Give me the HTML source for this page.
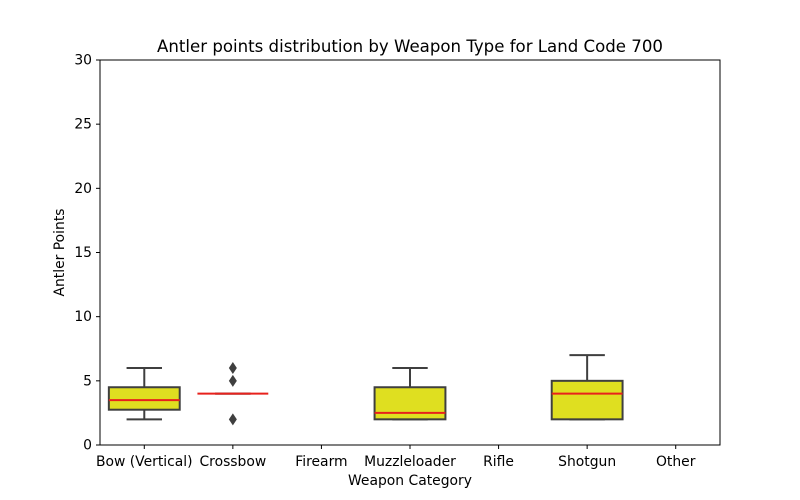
<!DOCTYPE html>
<html><head><meta charset="utf-8"><style>
body{margin:0;background:#fff;}
svg{display:block;font-family:"DejaVu Sans","Liberation Sans",sans-serif;}
</style></head><body>
<svg id="chart" width="800" height="500">
<rect x="0" y="0" width="800" height="500" fill="#fff"/>
<text x="410" y="52" text-anchor="middle" font-size="16.6" fill="#000">Antler points distribution by Weapon Type for Land Code 700</text>
<text x="410" y="485" text-anchor="middle" font-size="13.9">Weapon Category</text>
<text transform="translate(64,252.5) rotate(-90)" text-anchor="middle" font-size="13.9">Antler Points</text>
<g id="marks"></g>
<rect x="100" y="60" width="620" height="385" fill="none" stroke="#000" stroke-width="1"/>
</svg>
<script>
const categories = ["Bow (Vertical)","Crossbow","Firearm","Muzzleloader","Rifle","Shotgun","Other"];
const whiskLo = [2,4,null,2,null,2,null];
const q1 = [2.75,4,null,2,null,2,null];
const medians = [3.5,4,null,2.5,null,4,null];
const q3 = [4.5,4,null,4.5,null,5,null];
const whiskHi = [6,4,null,6,null,7,null];
const outliers = [[],[2,5,6],[],[],[],[],[]];
const yTicks = [0,5,10,15,20,25,30];

const X0=100,X1=720,Y0=445,Y1=60,YMAX=30;
const band=(X1-X0)/categories.length;
const xc=i=>X0+band*(i+0.5);
const y=v=>Y0-(v/YMAX)*(Y0-Y1);
const NS="http://www.w3.org/2000/svg";
const g=document.getElementById('marks');
function mk(tag,attrs,parent){const e=document.createElementNS(NS,tag);for(const k in attrs)e.setAttribute(k,attrs[k]);(parent||g).appendChild(e);return e;}

yTicks.forEach(t=>{
  const l=mk('line',{x1:X0-4,x2:X0,y1:y(t),y2:y(t),stroke:'#000'});
  
  
  const tx=mk('text',{x:X0-8,y:y(t)+4.5,'text-anchor':'end','font-size':13.9});
  tx.textContent=t;
  
  
});
categories.forEach((c,i)=>{
  const l=mk('line',{x1:xc(i),x2:xc(i),y1:Y0,y2:Y0+4,stroke:'#000'});
  
  
  const tx=mk('text',{x:xc(i),y:Y0+21,'text-anchor':'middle','font-size':13.9});
  tx.textContent=c;
  
  
  if(medians[i]==null) return;
  const grp=mk('g',{});
  
  
  const w=band*0.8, cx=xc(i), cap=w/2*0.5;
  const col='#3f3f3f';
  mk('line',{x1:cx,x2:cx,y1:y(q1[i]),y2:y(whiskLo[i]),stroke:col,'stroke-width':2},grp);
  mk('line',{x1:cx,x2:cx,y1:y(q3[i]),y2:y(whiskHi[i]),stroke:col,'stroke-width':2},grp);
  mk('line',{x1:cx-cap,x2:cx+cap,y1:y(whiskLo[i]),y2:y(whiskLo[i]),stroke:col,'stroke-width':2},grp);
  mk('line',{x1:cx-cap,x2:cx+cap,y1:y(whiskHi[i]),y2:y(whiskHi[i]),stroke:col,'stroke-width':2},grp);
  if(q3[i]>q1[i]) mk('rect',{x:cx-w/2,y:y(q3[i]),width:w,height:y(q1[i])-y(q3[i]),fill:'#dfdf20',stroke:col,'stroke-width':2},grp);
  mk('line',{x1:cx-w/2,x2:cx+w/2,y1:y(medians[i]),y2:y(medians[i]),stroke:'#e8211c','stroke-width':2},grp);
  outliers[i].forEach(o=>{
    const d=mk('path',{d:`M${cx},${y(o)-6} L${cx+4},${y(o)} L${cx},${y(o)+6} L${cx-4},${y(o)} Z`,fill:col},grp);
    
    
  });
});
</script>
</body></html>
